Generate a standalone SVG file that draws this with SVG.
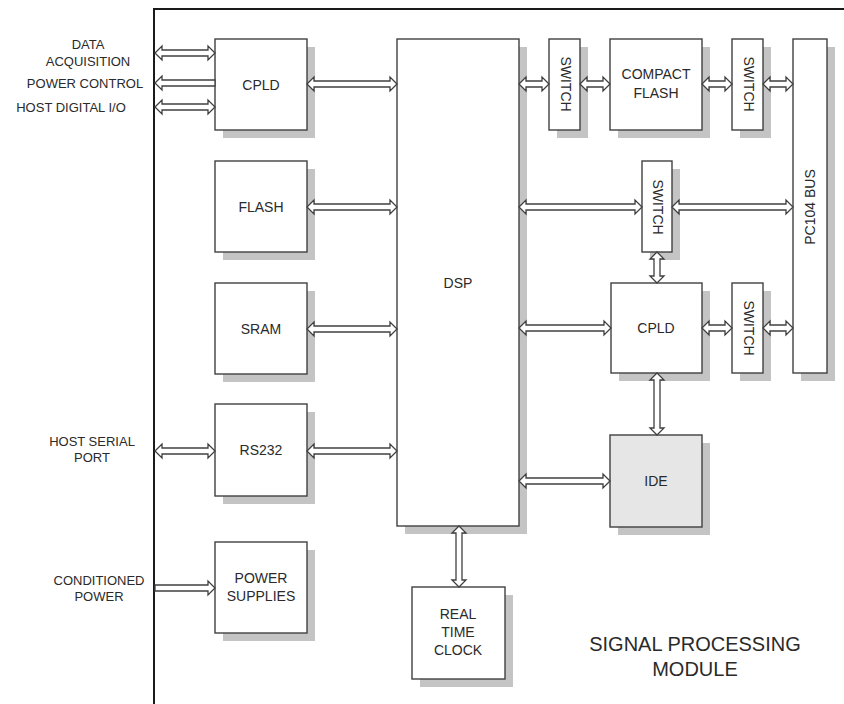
<svg xmlns="http://www.w3.org/2000/svg" width="844" height="704" viewBox="0 0 844 704">
<style>
.sh{fill:#c4c4c4}
.bx{fill:#ffffff;stroke:#404040;stroke-width:1.4}
.ide{fill:#e6e6e6;stroke:#404040;stroke-width:1.4}
.t{font-family:"Liberation Sans",Arial,sans-serif;font-size:14px;fill:#2a2a2a;text-anchor:middle}
.lbl{font-family:"Liberation Sans",Arial,sans-serif;font-size:13px;fill:#2a2a2a;text-anchor:middle}
.big{font-family:"Liberation Sans",Arial,sans-serif;font-size:20px;fill:#2a2a2a;text-anchor:middle}
.ar{fill:#ffffff;stroke:#404040;stroke-width:1.3;stroke-linejoin:miter}
</style>
<rect width="844" height="704" fill="#ffffff"/>
<path d="M154 704 L154 9 L844 9" fill="none" stroke="#1a1a1a" stroke-width="2"/>

<g id="labels">
<text class="lbl" x="88" y="49">DATA</text>
<text class="lbl" x="88" y="66">ACQUISITION</text>
<text class="lbl" x="85" y="88">POWER CONTROL</text>
<text class="lbl" x="71" y="112">HOST DIGITAL I/O</text>
<text class="lbl" x="92" y="446">HOST SERIAL</text>
<text class="lbl" x="92" y="462">PORT</text>
<text class="lbl" x="99" y="585">CONDITIONED</text>
<text class="lbl" x="99" y="601">POWER</text>
<text class="big" x="695" y="651">SIGNAL PROCESSING</text>
<text class="big" x="695" y="676">MODULE</text>
</g>

<g id="cpld1"><rect class="sh" x="223" y="47" width="92" height="91"/><rect class="bx" x="215" y="39" width="92" height="91"/><text class="t" x="261" y="90">CPLD</text></g>
<g id="flash"><rect class="sh" x="223" y="169" width="92" height="91"/><rect class="bx" x="215" y="161" width="92" height="91"/><text class="t" x="261" y="212">FLASH</text></g>
<g id="sram"><rect class="sh" x="223" y="291" width="92" height="91"/><rect class="bx" x="215" y="283" width="92" height="91"/><text class="t" x="261" y="334">SRAM</text></g>
<g id="rs232"><rect class="sh" x="223" y="412" width="92" height="92"/><rect class="bx" x="215" y="404" width="92" height="92"/><text class="t" x="261" y="455">RS232</text></g>
<g id="power"><rect class="sh" x="223" y="550" width="92" height="91"/><rect class="bx" x="215" y="542" width="92" height="91"/><text class="t" x="261" y="583">POWER</text><text class="t" x="261" y="601">SUPPLIES</text></g>
<g id="dsp"><rect class="sh" x="405" y="47" width="122" height="487"/><rect class="bx" x="397" y="39" width="122" height="487"/><text class="t" x="458" y="288">DSP</text></g>
<g id="rtc"><rect class="sh" x="420" y="595" width="93" height="92"/><rect class="bx" x="412" y="587" width="93" height="92"/><text class="t" x="458" y="619">REAL</text><text class="t" x="458" y="637">TIME</text><text class="t" x="458" y="655">CLOCK</text></g>
<g id="switch1"><rect class="sh" x="557" y="47" width="31" height="91"/><rect class="bx" x="549" y="39" width="31" height="91"/><text class="t" transform="translate(561 84) rotate(90)" x="0" y="0">SWITCH</text></g>
<g id="compactflash"><rect class="sh" x="618" y="47" width="92" height="91"/><rect class="bx" x="610" y="39" width="92" height="91"/><text class="t" x="656" y="79">COMPACT</text><text class="t" x="656" y="98">FLASH</text></g>
<g id="switch2"><rect class="sh" x="740" y="47" width="31" height="91"/><rect class="bx" x="732" y="39" width="31" height="91"/><text class="t" transform="translate(744 84) rotate(90)" x="0" y="0">SWITCH</text></g>
<g id="pc104"><rect class="sh" x="801" y="47" width="34" height="334"/><rect class="bx" x="793" y="39" width="34" height="334"/><text class="t" transform="translate(815 207) rotate(-90)" x="0" y="0">PC104 BUS</text></g>
<g id="switch3"><rect class="sh" x="650" y="169" width="30" height="91"/><rect class="bx" x="642" y="161" width="30" height="91"/><text class="t" transform="translate(653 207) rotate(90)" x="0" y="0">SWITCH</text></g>
<g id="cpld2"><rect class="sh" x="619" y="291" width="91" height="90"/><rect class="bx" x="611" y="283" width="91" height="90"/><text class="t" x="656" y="333">CPLD</text></g>
<g id="switch4"><rect class="sh" x="740" y="291" width="31" height="90"/><rect class="bx" x="732" y="283" width="31" height="90"/><text class="t" transform="translate(744 328) rotate(90)" x="0" y="0">SWITCH</text></g>
<g id="ide"><rect class="sh" x="618" y="443" width="92" height="92"/><rect class="ide" x="610" y="435" width="92" height="92"/><text class="t" x="656" y="486">IDE</text></g>

<g id="connectors">
<path class="ar" d="M155 53 L162 46 L162 50 L208 50 L208 46 L215 53 L208 60 L208 56 L162 56 L162 60 Z"/>
<path class="ar" d="M155 83 L162 76 L162 80 L215 80 L215 86 L162 86 L162 90 Z"/>
<path class="ar" d="M155 107 L162 100 L162 104 L208 104 L208 100 L215 107 L208 114 L208 110 L162 110 L162 114 Z"/>
<path class="ar" d="M307 84 L314 77 L314 81 L390 81 L390 77 L397 84 L390 91 L390 87 L314 87 L314 91 Z"/>
<path class="ar" d="M307 207 L314 200 L314 204 L390 204 L390 200 L397 207 L390 214 L390 210 L314 210 L314 214 Z"/>
<path class="ar" d="M307 329 L314 322 L314 326 L390 326 L390 322 L397 329 L390 336 L390 332 L314 332 L314 336 Z"/>
<path class="ar" d="M155 451 L162 444 L162 448 L208 448 L208 444 L215 451 L208 458 L208 454 L162 454 L162 458 Z"/>
<path class="ar" d="M307 451 L314 444 L314 448 L390 448 L390 444 L397 451 L390 458 L390 454 L314 454 L314 458 Z"/>
<path class="ar" d="M155 585 L208 585 L208 581 L215 588 L208 595 L208 591 L155 591 Z"/>
<path class="ar" d="M519 84 L526 77 L526 81 L542 81 L542 77 L549 84 L542 91 L542 87 L526 87 L526 91 Z"/>
<path class="ar" d="M580 84 L587 77 L587 81 L603 81 L603 77 L610 84 L603 91 L603 87 L587 87 L587 91 Z"/>
<path class="ar" d="M702 84 L709 77 L709 81 L725 81 L725 77 L732 84 L725 91 L725 87 L709 87 L709 91 Z"/>
<path class="ar" d="M763 84 L770 77 L770 81 L786 81 L786 77 L793 84 L786 91 L786 87 L770 87 L770 91 Z"/>
<path class="ar" d="M519 207 L526 200 L526 204 L635 204 L635 200 L642 207 L635 214 L635 210 L526 210 L526 214 Z"/>
<path class="ar" d="M672 207 L679 200 L679 204 L786 204 L786 200 L793 207 L786 214 L786 210 L679 210 L679 214 Z"/>
<path class="ar" d="M519 328 L526 321 L526 325 L604 325 L604 321 L611 328 L604 335 L604 331 L526 331 L526 335 Z"/>
<path class="ar" d="M702 328 L709 321 L709 325 L725 325 L725 321 L732 328 L725 335 L725 331 L709 331 L709 335 Z"/>
<path class="ar" d="M763 328 L770 321 L770 325 L786 325 L786 321 L793 328 L786 335 L786 331 L770 331 L770 335 Z"/>
<path class="ar" d="M519 481 L526 474 L526 478 L603 478 L603 474 L610 481 L603 488 L603 484 L526 484 L526 488 Z"/>
<path class="ar" d="M657 252 L664 259 L660 259 L660 276 L664 276 L657 283 L650 276 L654 276 L654 259 L650 259 Z"/>
<path class="ar" d="M657 373 L664 380 L660 380 L660 428 L664 428 L657 435 L650 428 L654 428 L654 380 L650 380 Z"/>
<path class="ar" d="M459 526 L466 533 L462 533 L462 580 L466 580 L459 587 L452 580 L456 580 L456 533 L452 533 Z"/>
</g>
</svg>
